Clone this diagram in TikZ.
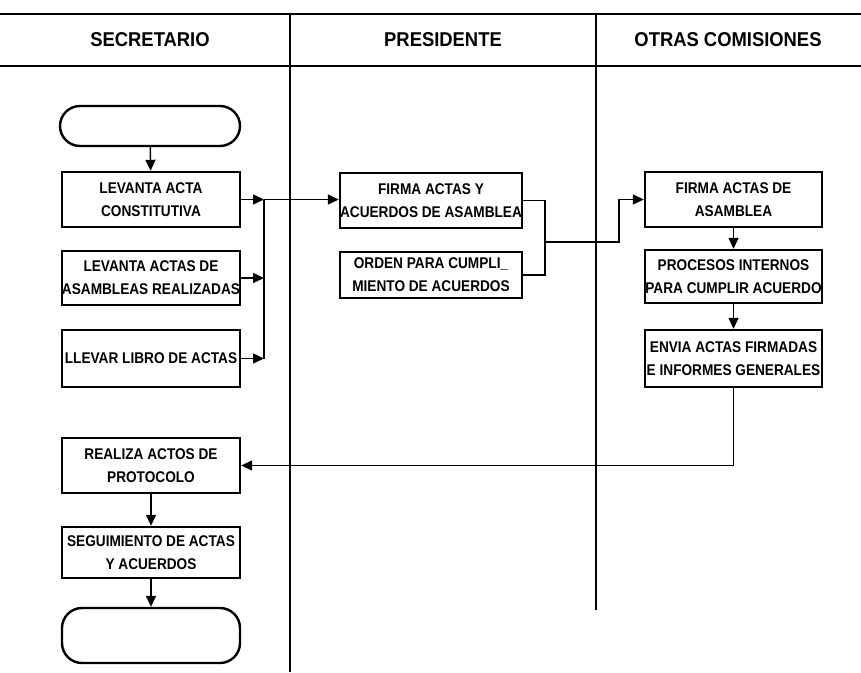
\documentclass[tikz,border=0pt]{standalone}
\usepackage{fontspec}
\setmainfont{Liberation Sans}
\newfontfamily\boxfont{Liberation Sans}[FakeStretch=0.88]
\newfontfamily\hdrfont{Liberation Sans}[FakeStretch=0.92]
\usetikzlibrary{arrows.meta}
\begin{document}
\begin{tikzpicture}[x=1pt,y=-1pt,
  lane/.style={line width=2.6pt},
  hdr/.style={font=\hdrfont\bfseries\fontsize{20}{22}\selectfont, inner sep=0pt},
  proc/.style={draw, line width=2.4pt, inner sep=0pt, align=center,
    font=\boxfont\bfseries\fontsize{15.5}{23}\selectfont},
  term/.style={draw, line width=2.4pt, rounded corners=20pt, inner sep=0pt},
  conn/.style={line width=1.4pt},
  arr/.style={conn, -{Triangle[length=11pt,width=10pt]}}]
\useasboundingbox (0,0) rectangle (861,672);
% swimlane frame
\coordinate (t0) at (0,14);   \coordinate (t1) at (861,14);
\coordinate (h0) at (0,66);   \coordinate (h1) at (861,66);
\coordinate (v1a) at (290,14); \coordinate (v1b) at (290,672);
\coordinate (v2a) at (596,14); \coordinate (v2b) at (596,610);
\draw[lane] (t0) -- (t1);
\draw[lane] (h0) -- (h1);
\draw[lane] (v1a) -- (v1b);
\draw[lane] (v2a) -- (v2b);
\node[hdr] (hs) at (150,40) {SECRETARIO};
\node[hdr] (hp) at (443,40) {PRESIDENTE};
\node[hdr] (ho) at (728,40) {OTRAS COMISIONES};
% secretario column
\node[term, minimum width=180pt, minimum height=40pt] (start) at (150,126) {};
\node[proc, minimum width=178pt, minimum height=55pt] (L1) at (151,199.5) {LEVANTA ACTA\\CONSTITUTIVA};
\node[proc, minimum width=178pt, minimum height=54pt] (L2) at (151,278) {LEVANTA ACTAS DE\\ASAMBLEAS REALIZADAS};
\node[proc, minimum width=178pt, minimum height=57pt] (L3) at (151,358.5) {LLEVAR LIBRO DE ACTAS};
\node[proc, minimum width=178pt, minimum height=55pt] (L4) at (151,465.5) {REALIZA ACTOS DE\\PROTOCOLO};
\node[proc, minimum width=178pt, minimum height=51pt] (L5) at (151,552.5) {SEGUIMIENTO DE ACTAS\\Y ACUERDOS};
\node[term, minimum width=178pt, minimum height=55pt] (end) at (151,635.5) {};
% presidente column
\node[proc, minimum width=182pt, minimum height=55pt] (P1) at (431,200.5) {FIRMA ACTAS Y\\ACUERDOS DE ASAMBLEA};
\node[proc, minimum width=182pt, minimum height=46pt] (P2) at (431,275) {ORDEN PARA CUMPLI\_\\MIENTO DE ACUERDOS};
% otras comisiones column
\node[proc, minimum width=177pt, minimum height=55pt] (O1) at (733.5,199.5) {FIRMA ACTAS DE\\ASAMBLEA};
\node[proc, minimum width=177pt, minimum height=53pt] (O2) at (733.5,276.5) {PROCESOS INTERNOS\\PARA CUMPLIR ACUERDO};
\node[proc, minimum width=177pt, minimum height=57pt] (O3) at (733.5,358.5) {ENVIA ACTAS FIRMADAS\\E INFORMES GENERALES};
% connectors
\coordinate (c1) at (264,199.5);
\coordinate (c2) at (264,278);
\coordinate (c3) at (264,358.5);
\coordinate (b1) at (545,200.5);
\coordinate (b2) at (545,275);
\coordinate (bm) at (545,242);
\coordinate (k1) at (619,242);
\coordinate (k2) at (619,199.5);
\coordinate (r1) at (733.5,465.5);
\draw[arr] (start) -- (L1);
\draw[arr] (L1.east) -- (c1);
\draw[arr] (L2.east) -- (c2);
\draw[arr] (L3.east) -- (c3);
\draw[conn] (c1) -- (c3);
\draw[arr] (c1) -- (c1 -| P1.west);
\draw[conn] (P1.east) -- (b1) -- (b2) -- (P2.east);
\draw[arr] (bm) -- (k1) -- (k2) -- (O1.west);
\draw[arr] (O1) -- (O2);
\draw[arr] (O2) -- (O3);
\draw[arr] (O3.south) -- (r1) -- (L4.east);
\draw[arr] (L4) -- (L5);
\draw[arr] (L5) -- (end);
\end{tikzpicture}
\end{document}
